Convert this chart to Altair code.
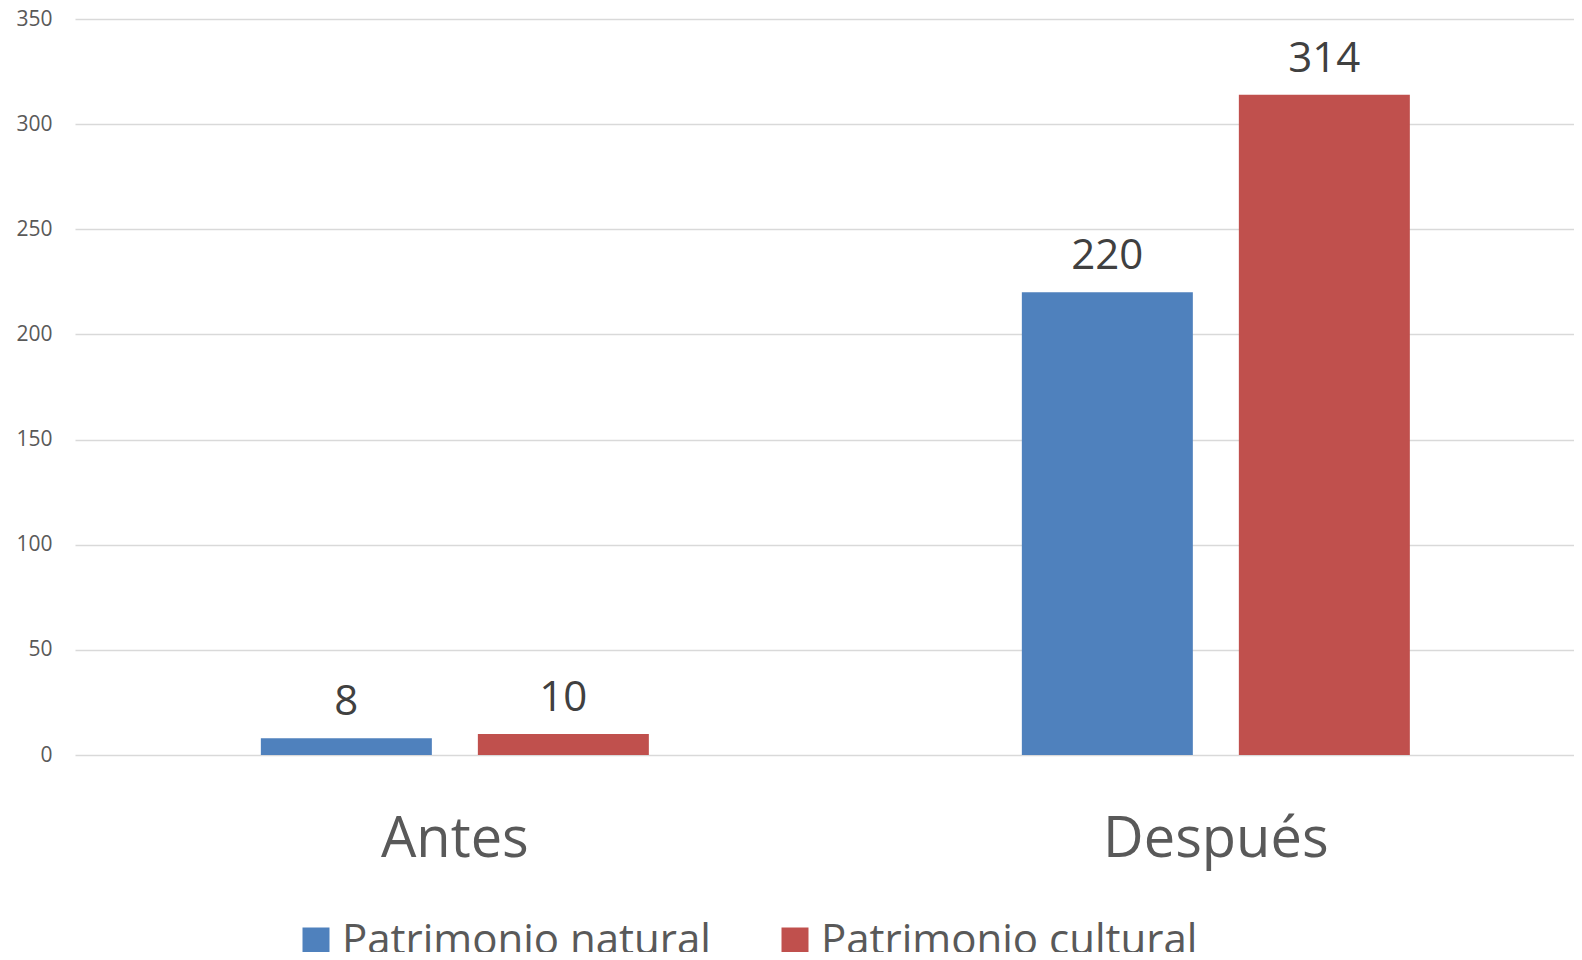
import altair as alt
import pandas as pd

categories = ["Antes", "Antes", "Después", "Después"]
series = ["Patrimonio natural", "Patrimonio cultural", "Patrimonio natural", "Patrimonio cultural"]
values = [8, 10, 220, 314]

series_order = ["Patrimonio natural", "Patrimonio cultural"]
series_colors = ["#4F81BD", "#C0504D"]
y_ticks = [0, 50, 100, 150, 200, 250, 300, 350]

df = pd.DataFrame({"periodo": categories, "serie": series, "valor": values})

FONT = "Open Sans"

x_enc = alt.X(
    "periodo:N",
    sort=["Antes", "Después"],
    scale=alt.Scale(paddingInner=0.49014, paddingOuter=0.22997, align=0.531),
    axis=alt.Axis(
        title=None,
        labelAngle=0,
        labelFont=FONT,
        labelFontSize=56,
        labelColor="#595959",
        labelBaseline="alphabetic",
        labelPadding=101,
        labelLimit=1000,
        ticks=False,
        tickSize=0,
        domain=False,
        grid=False,
    ),
)
xoff_enc = alt.XOffset(
    "serie:N",
    sort=series_order,
    scale=alt.Scale(paddingInner=0.212, paddingOuter=0),
)
y_enc = alt.Y(
    "valor:Q",
    scale=alt.Scale(domain=[0, 350], nice=False),
    axis=alt.Axis(
        title=None,
        values=y_ticks,
        labelFont=FONT,
        labelFontSize=21,
        labelColor="#595959",
        labelPadding=23,
        ticks=False,
        tickSize=0,
        domain=False,
        grid=True,
        gridColor="#D9D9D9",
        gridWidth=1.6,
    ),
)

bars = alt.Chart(df).mark_bar().encode(
    x=x_enc,
    xOffset=xoff_enc,
    y=y_enc,
    color=alt.Color(
        "serie:N",
        sort=series_order,
        scale=alt.Scale(domain=series_order, range=series_colors),
        legend=alt.Legend(
            title=None,
            orient="none",
            direction="horizontal",
            legendX=220,
            legendY=901,
            symbolType="square",
            symbolSize=729,
            symbolStrokeWidth=0,
            symbolOpacity=1,
            labelFont=FONT,
            labelFontSize=42,
            labelColor="#595959",
            labelOffset=5,
            labelLimit=800,
            columnPadding=63,
            padding=0,
        ),
    ),
)

labels = alt.Chart(df).mark_text(
    font=FONT,
    fontSize=42,
    color="#404040",
    baseline="alphabetic",
    dy=-23,
).encode(
    x=alt.X("periodo:N", sort=["Antes", "Después"]),
    xOffset=alt.XOffset("serie:N", sort=series_order),
    y=alt.Y("valor:Q"),
    text=alt.Text("valor:Q"),
)

chart = (
    alt.layer(bars, labels)
    .properties(
        width=1499,
        height=736,
        padding={"left": 67, "top": 11, "right": 0, "bottom": 197},
        autosize=alt.AutoSizeParams(type="none"),
        background="white",
    )
    .configure_view(stroke=None)
)

chart.save("out.html", embed_options={"renderer": "svg", "actions": False})
